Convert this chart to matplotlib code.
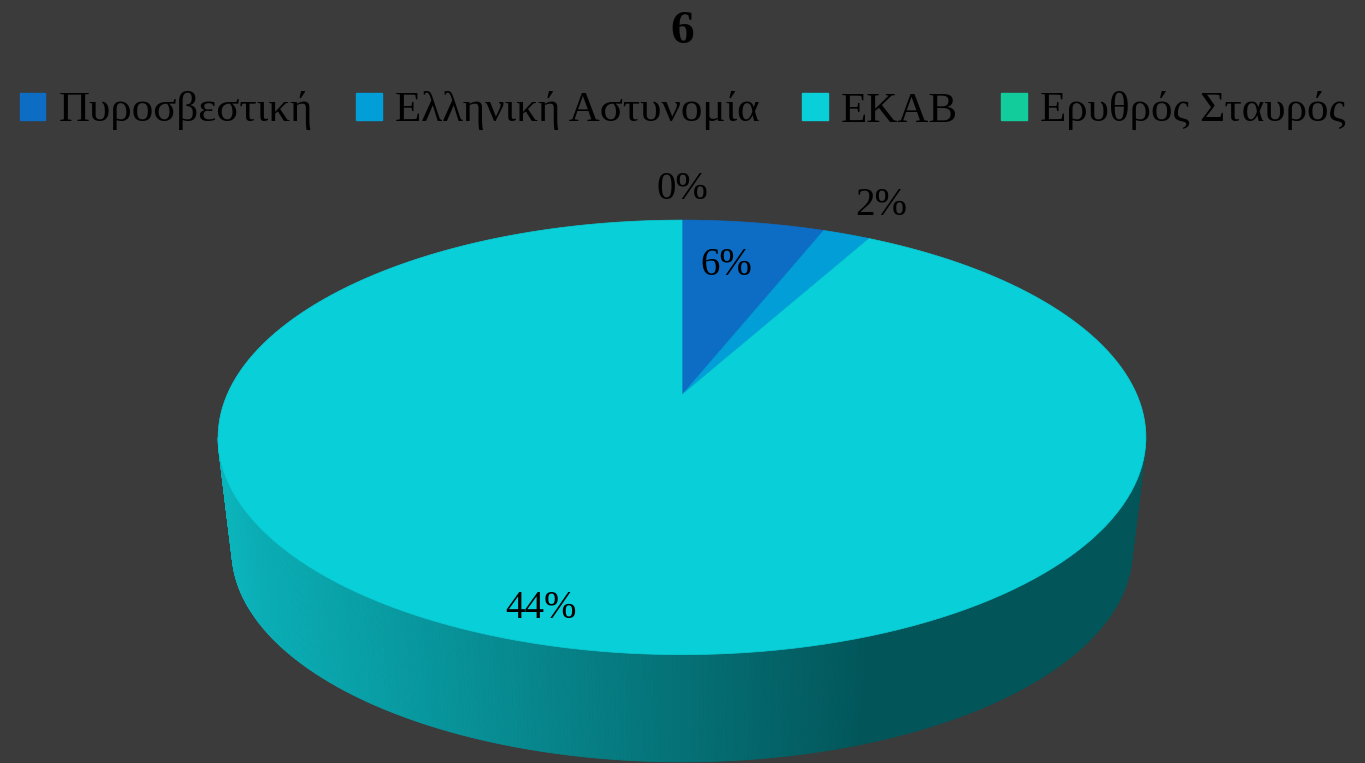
import numpy as np
import matplotlib.pyplot as plt
from matplotlib.patches import Patch
from matplotlib.collections import PolyCollection
from matplotlib.colors import to_rgb

# data
categories = ["Πυροσβεστική", "Ελληνική Αστυνομία", "ΕΚΑΒ", "Ερυθρός Σταυρός"]
slice_share = [6, 2, 92, 0]          # share of the circle each slice takes (%)
label_text = ["6%", "2%", "44%", "0%"]
colors = ["#0d6dc5", "#029ed8", "#09cfd8", "#12cc9c"]
title = "6"

bg = "#3b3b3b"
serif = "Liberation Serif"

# projection of the tilted 3D pie (pixel space)
CX, CY = 682, 395
A, B, K = 455, 209, 0.195
DEPTH, SHRINK = 115, 0.97
label_r = [0.72, 1.22, 0.88, 1.22]
label_dx = [-10, 5, -22, 0]


def proj(theta_deg, r=1.0, bottom=False):
    t = np.radians(theta_deg)
    u, v = r * np.sin(t), r * np.cos(t)
    s = SHRINK if bottom else 1.0
    w = 1 + K * v
    x = CX + s * A * u / w
    y = CY - s * B * v / w + (DEPTH if bottom else 0)
    return x, y


fig = plt.figure(figsize=(13.65, 7.63), dpi=100, facecolor=bg)
ax = fig.add_axes([0, 0, 1, 1])
ax.set_facecolor(bg)
ax.set_xlim(0, 1365)
ax.set_ylim(763, 0)
ax.axis("off")

# side wall (front half), shaded left light -> right dark
light = np.array(to_rgb("#0bb3bb"))
dark = np.array(to_rgb("#02565a"))
lim = np.degrees(np.arccos(-K))
th = np.linspace(lim, 360 - lim, 400)
tx, ty = proj(th)
bx, by = proj(th, bottom=True)
quads, fcs = [], []
for i in range(len(th) - 1):
    quads.append([(tx[i], ty[i]), (tx[i + 1], ty[i + 1]),
                  (bx[i + 1], by[i + 1]), (bx[i], by[i])])
    xm = (tx[i] + tx[i + 1]) / 2
    f = np.clip((xm - 225) / (870 - 225), 0, 1)
    fcs.append(light * (1 - f) + dark * f)
ax.add_collection(PolyCollection(quads, facecolors=fcs, edgecolors=fcs, linewidths=0.6))

# top face
cum = 0
mids = []
for share, col in zip(slice_share, colors):
    start, end = cum, cum + share
    mids.append((start + end) / 2 * 3.6)
    if share > 0:
        t = np.linspace(start * 3.6, end * 3.6, 200)
        x, y = proj(t)
        ax.fill(np.r_[CX, x], np.r_[CY, y], color=col, lw=0.5, ec=col)
    cum = end

# data labels
for txt, m, r, dx in zip(label_text, mids, label_r, label_dx):
    x, y = proj(m, r)
    ax.text(x + dx, y, txt, ha="center", va="center", fontsize=28,
            family=serif, color="black")

fig.text(0.5, 1 - 32 / 763, title, ha="center", va="center", fontsize=34,
         fontweight="bold", family=serif, color="black")

handles = [Patch(facecolor=c, edgecolor=c) for c in colors]
fig.legend(handles, categories, loc="center", bbox_to_anchor=(0.5, 1 - 111 / 763),
           ncol=4, frameon=False, prop={"family": serif, "size": 31},
           handlelength=0.6, handleheight=0.6, handletextpad=0.3,
           columnspacing=1.0, labelcolor="black")

fig.savefig("out.png", dpi=100, facecolor=bg)
